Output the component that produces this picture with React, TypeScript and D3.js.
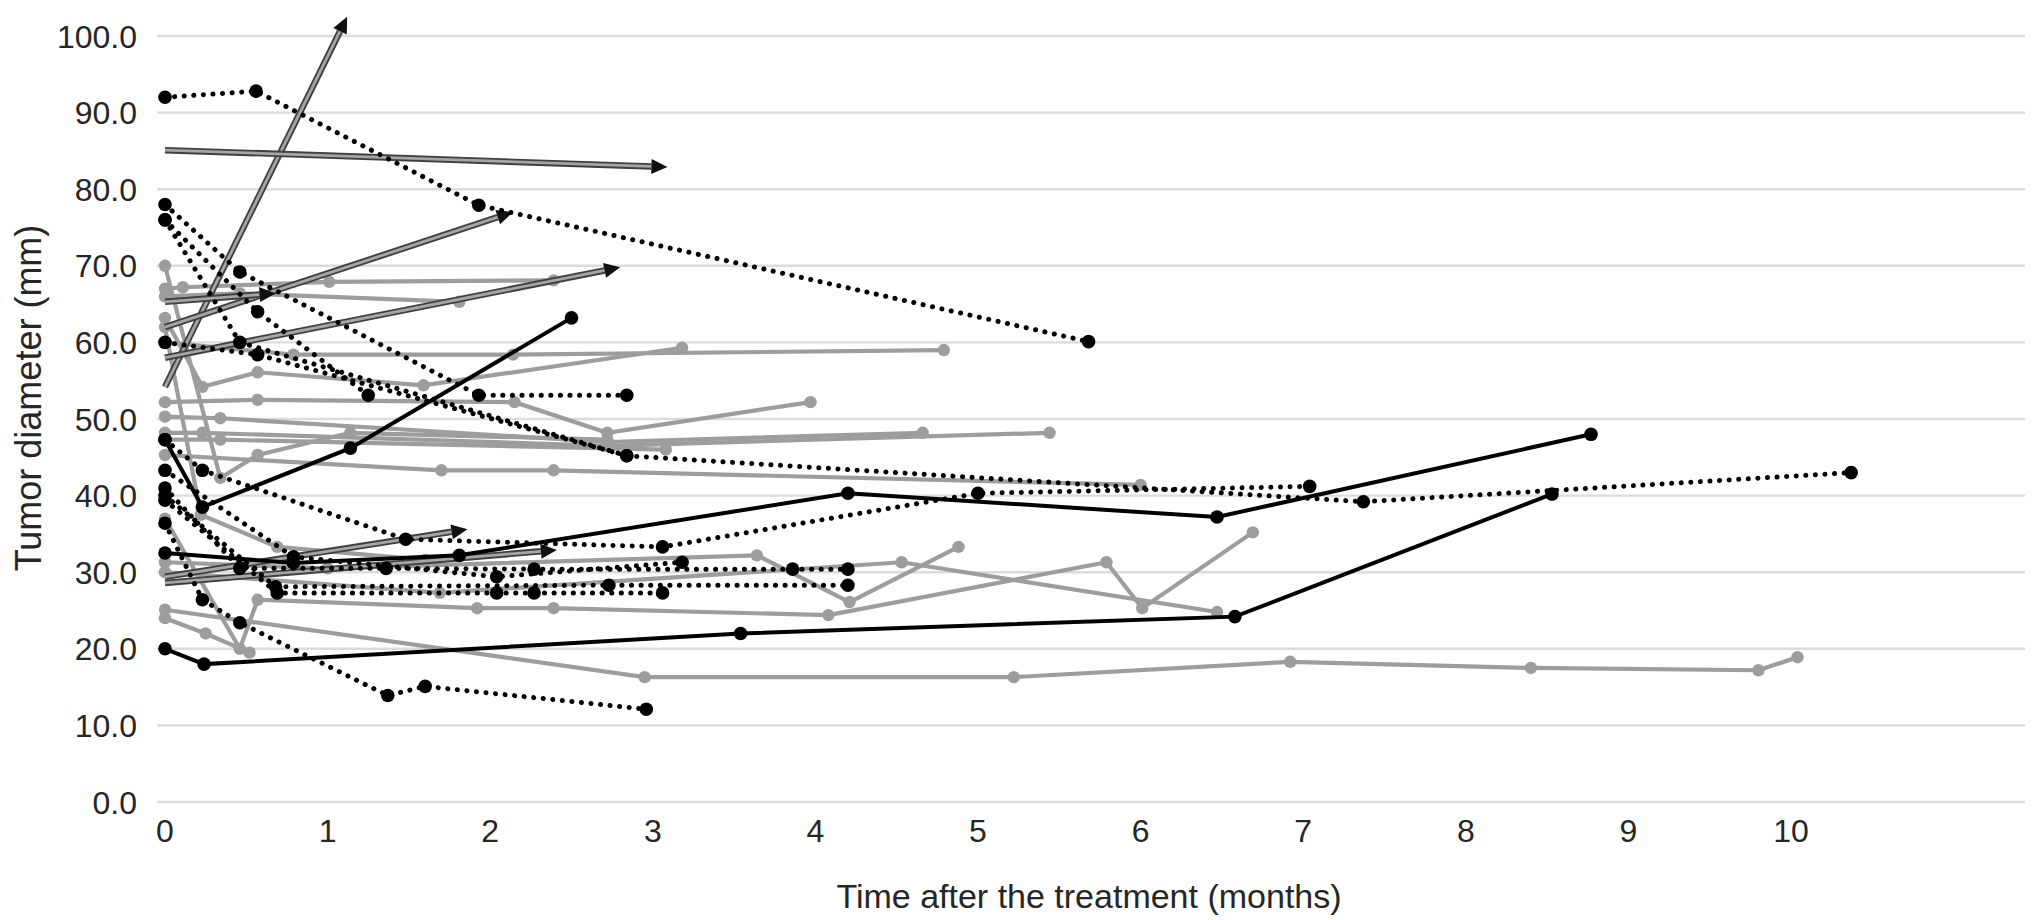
import React from "react";
import * as d3 from "d3";

type P = [number, number];

const xTicks = [0, 1, 2, 3, 4, 5, 6, 7, 8, 9, 10];
const yTicks = [0, 10, 20, 30, 40, 50, 60, 70, 80, 90, 100];
const xTitle = "Time after the treatment (months)";
const yTitle = "Tumor diameter (mm)";

const grayLines: P[][] = [
  [[0, 67], [0.11, 67.2], [1.01, 67.9], [2.39, 68.1]],
  [[0, 66], [0.46, 66.4], [1.81, 65.3]],
  [[0, 70], [0.34, 42.3], [0.57, 45.3], [1.14, 48.2], [2.72, 47.3]],
  [[0, 63.2], [0.23, 54.2], [0.57, 56.1], [1.59, 54.4], [3.18, 59.3]],
  [[0, 60], [0.79, 58.4], [2.14, 58.4], [4.79, 59.0]],
  [[0, 52.2], [0.57, 52.5], [2.15, 52.2], [2.72, 48.2], [3.97, 52.2]],
  [[0, 50.3], [0.34, 50.1], [2.72, 47], [4.66, 48.2]],
  [[0, 48.2], [0.23, 48.2], [2.72, 46.5], [5.44, 48.2]],
  [[0, 47.3], [0.34, 47.3], [3.08, 46]],
  [[0, 45.3], [1.7, 43.3], [2.39, 43.3], [6.0, 41.4]],
  [[0, 62], [0.22, 37.5], [0.69, 33.3], [1.6, 31.6]],
  [[0, 31.3], [1.0, 30.5], [3.64, 32.2], [4.21, 26.1], [4.88, 33.3]],
  [[0, 37], [0.46, 20], [0.57, 26.4], [1.92, 25.3], [2.39, 25.3], [4.08, 24.4], [5.79, 31.3], [6.01, 25.3], [6.69, 35.2]],
  [[0, 30], [1.69, 27.3], [4.53, 31.3], [6.47, 24.8]],
  [[0, 25.1], [2.95, 16.3], [5.22, 16.3], [6.92, 18.3], [8.4, 17.5], [9.8, 17.2], [10.04, 18.9]],
  [[0, 24], [0.25, 22], [0.52, 19.5]],
];

const dottedLines: P[][] = [
  [[0, 92], [0.56, 92.8], [1.93, 77.9], [5.68, 60.1]],
  [[0, 78], [0.46, 69.2], [1.93, 53.1], [2.84, 53.1]],
  [[0, 76], [0.57, 64], [1.25, 53.1]],
  [[0, 76], [0.46, 60], [2.84, 45.2], [7.37, 39.2], [10.37, 43]],
  [[0, 47.3], [0.23, 43.3], [1.48, 34.3], [3.06, 33.3], [5.0, 40.3], [7.04, 41.2]],
  [[0, 60], [0.57, 58.4], [2.84, 45.2]],
  [[0, 41], [0.46, 30.5], [1.36, 30.5], [2.27, 30.4], [3.86, 30.4], [4.2, 30.4]],
  [[0, 40], [0.68, 28.1], [2.73, 28.3], [4.2, 28.3]],
  [[0, 39.4], [0.69, 27.3], [2.04, 27.3], [2.27, 27.3], [3.06, 27.3]],
  [[0, 43.3], [0.79, 32], [2.04, 29.4], [3.18, 31.3]],
  [[0, 36.4], [0.23, 26.4], [0.46, 23.4], [1.37, 13.9], [1.6, 15.1], [2.96, 12.1]],
];

const solidLines: P[][] = [
  [[0, 47.3], [0.23, 38.5], [1.14, 46.2], [2.5, 63.2]],
  [[0, 32.5], [0.79, 31.2], [1.81, 32.2], [4.2, 40.3], [6.47, 37.2], [8.77, 48]],
  [[0, 20], [0.24, 18], [3.54, 22], [6.58, 24.2], [8.53, 40.2]],
];

const arrows: P[][] = [
  [[0, 54.2], [1.12, 102.5]],
  [[0, 85.1], [3.09, 82.9]],
  [[0, 62], [2.14, 77]],
  [[0, 58], [2.8, 69.8]],
  [[0, 65.3], [0.68, 66.4]],
  [[0, 29.4], [1.86, 35.6]],
  [[0, 28.6], [2.41, 32.9]],
];

const W = 2032;
const H = 920;
const x = d3.scaleLinear().domain([0, 10]).range([165, 1791]);
const y = d3.scaleLinear().domain([0, 100]).range([802, 36]);
const gridX1 = 157;
const gridX2 = 2025;
const FONT = "'Liberation Sans', Arial, Helvetica, sans-serif";
const TEXT = "#262626";
const GRAY = "#9d9d9d";

const line = d3
  .line<P>()
  .x((d) => x(d[0]))
  .y((d) => y(d[1]));

function Arrow({ pts }: { pts: P[] }) {
  const a = pts[pts.length - 2];
  const b = pts[pts.length - 1];
  const ax = x(a[0]), ay = y(a[1]);
  const bx = x(b[0]), by = y(b[1]);
  const ang = Math.atan2(by - ay, bx - ax);
  const L = 16, Wd = 7.5;
  const baseX = bx - L * Math.cos(ang);
  const baseY = by - L * Math.sin(ang);
  const nx = -Math.sin(ang), ny = Math.cos(ang);
  const tri = `M${bx},${by}L${baseX + nx * Wd},${baseY + ny * Wd}L${baseX - nx * Wd},${baseY - ny * Wd}Z`;
  const shaft: P[] = [...pts.slice(0, -1), [x.invert(baseX), y.invert(baseY)]];
  return (
    <g>
      <path d={line(shaft) || ""} fill="none" stroke="#404040" strokeWidth={6.5} />
      <path d={line(shaft) || ""} fill="none" stroke="#a5a5a5" strokeWidth={2.8} />
      <path d={tri} fill="#111" />
    </g>
  );
}

export default function App() {
  return (
    <svg
      width={W}
      height={H}
      style={{ position: "absolute", left: 0, top: 0, background: "#fff" }}
      fontFamily={FONT}
    >
      <rect width={W} height={H} fill="#fff" />
      {yTicks.map((t) => (
        <g key={"y" + t}>
          <line x1={gridX1} x2={gridX2} y1={y(t)} y2={y(t)} stroke="#dcdcdc" strokeWidth={2.4} />
          <text x={137} y={y(t)} dy="0.36em" textAnchor="end" fontSize={32} fill={TEXT}>
            {t.toFixed(1)}
          </text>
        </g>
      ))}
      {xTicks.map((t) => (
        <text key={"x" + t} x={x(t)} y={842} textAnchor="middle" fontSize={32} fill={TEXT}>
          {t}
        </text>
      ))}
      <text x={1089} y={908} textAnchor="middle" fontSize={34} fill={TEXT}>
        {xTitle}
      </text>
      <text
        transform={`translate(41,398) rotate(-90)`}
        textAnchor="middle"
        fontSize={36}
        fill={TEXT}
      >
        {yTitle}
      </text>

      {grayLines.map((s, i) => (
        <g key={"g" + i}>
          <path d={line(s) || ""} fill="none" stroke={GRAY} strokeWidth={4.2} />
          {s.map((p, j) => (
            <circle key={j} cx={x(p[0])} cy={y(p[1])} r={6.2} fill={GRAY} />
          ))}
        </g>
      ))}

      {arrows.map((s, i) => (
        <Arrow key={"a" + i} pts={s} />
      ))}

      {dottedLines.map((s, i) => (
        <g key={"d" + i}>
          <path
            d={line(s) || ""}
            fill="none"
            stroke="#000"
            strokeWidth={5}
            strokeDasharray="0.1 9.5"
            strokeLinecap="round"
          />
          {s.map((p, j) => (
            <circle key={j} cx={x(p[0])} cy={y(p[1])} r={6.8} fill="#000" />
          ))}
        </g>
      ))}

      {solidLines.map((s, i) => (
        <g key={"s" + i}>
          <path d={line(s) || ""} fill="none" stroke="#000" strokeWidth={4} />
          {s.map((p, j) => (
            <circle key={j} cx={x(p[0])} cy={y(p[1])} r={6.8} fill="#000" />
          ))}
        </g>
      ))}
    </svg>
  );
}
